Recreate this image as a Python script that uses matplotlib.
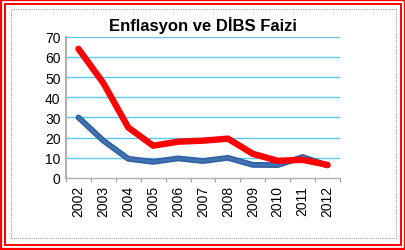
import matplotlib
matplotlib.use('Agg')
import matplotlib.pyplot as plt
from matplotlib.patches import Rectangle

# veriler
years = ['2002', '2003', '2004', '2005', '2006', '2007', '2008', '2009', '2010', '2011', '2012']
dibs = [64, 47, 25, 16, 18, 18.5, 19.5, 12, 8.5, 9, 6.5]
enflasyon = [30, 18.5, 9.5, 8, 9.7, 8.4, 10, 6.5, 6.4, 10.4, 6.2]
yticks = [0, 10, 20, 30, 40, 50, 60, 70]

plt.rcParams['font.family'] = ['Liberation Sans', 'DejaVu Sans']

W, H = 406, 251
fig = plt.figure(figsize=(W / 100, H / 100), dpi=100)

# cerceveler (piksel -> figur koordinati)
def frame(x0, y0, x1, y1, color, lw, ls='-'):
    fig.patches.append(Rectangle((x0 / W, 1 - y1 / H), (x1 - x0) / W, (y1 - y0) / H,
                                 transform=fig.transFigure, fill=False,
                                 edgecolor=color, linewidth=lw, linestyle=ls))

frame(1, 1, 405, 250, '#ff0000', 1.6)
frame(5, 5, 401, 246, '#ff0000', 1.4)
frame(11, 10, 396, 239, '#a0a0a0', 0.8, (0, (1, 1)))

ax = fig.add_axes([66 / W, 1 - 179 / H, (340 - 66) / W, (179 - 37.7) / H])
x = list(range(len(years)))
ax.plot(x, enflasyon, color='#2f5f9e', linewidth=4.2, solid_capstyle='round', solid_joinstyle='round')
ax.plot(x, enflasyon, color='#4f7fc0', linewidth=2.0, solid_capstyle='round', solid_joinstyle='round', alpha=0.6)
ax.plot(x, dibs, color='#ff0000', linewidth=4.6, solid_capstyle='round', solid_joinstyle='round')

ax.set_xlim(-0.5, len(years) - 0.5)
ax.set_ylim(0, 70)
ax.set_yticks(yticks)
ax.set_yticklabels([str(v) for v in yticks], fontsize=10)
ax.set_xticks([i - 0.5 for i in range(len(years) + 1)], minor=False)
ax.set_xticklabels([])
ax.set_xticks(x, minor=True)
ax.set_xticklabels(years, minor=True, rotation=90, fontsize=10)
ax.tick_params(axis='x', which='minor', length=0, pad=5)
ax.tick_params(axis='x', which='major', length=3, color='#a0a0a0', direction='out')
ax.tick_params(axis='y', length=0, pad=4)

for v in yticks[1:]:
    ax.axhline(v, color='#5cc8f0', linewidth=1.0, zorder=0)

for s in ['top', 'right']:
    ax.spines[s].set_visible(False)
ax.spines['left'].set_color('#b0b0b0')
ax.spines['bottom'].set_color('#b0b0b0')
ax.spines['left'].set_linewidth(1.5)
ax.spines['bottom'].set_linewidth(1.0)

fig.text(203 / W, 1 - 25 / H, 'Enflasyon ve DİBS Faizi', ha='center', va='center',
         fontsize=12, fontweight='bold')

fig.savefig('out.png', dpi=100)
